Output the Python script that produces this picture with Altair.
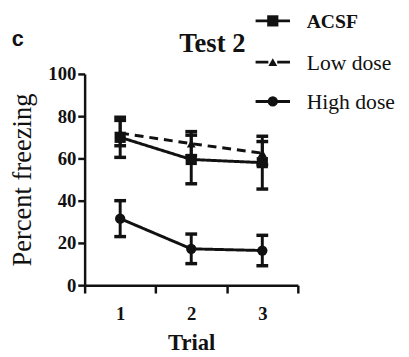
import altair as alt
import pandas as pd

trials = ["1", "2", "3"]
groups = ["ACSF", "Low dose", "High dose"]
acsf_mean = [70, 59.5, 58]
acsf_err = [9.5, 11.5, 12.5]
low_mean = [72, 67, 62.5]
low_err = [6, 5.7, 5.5]
high_mean = [31.5, 17.2, 16.4]
high_err = [8.5, 7, 7.2]
marker_shapes = ["square", "triangle-up", "circle"]
marker_sizes = [130, 80, 110]
dash_styles = [[1, 0], [9, 6], [1, 0]]

rows = []
for g, m, e in zip(groups, [acsf_mean, low_mean, high_mean], [acsf_err, low_err, high_err]):
    for t, mv, ev in zip(trials, m, e):
        rows.append({"trial": t, "group": g, "mean": mv, "err": ev})
df = pd.DataFrame(rows)

SERIF = "Liberation Serif"
INK = "#111111"

xaxis = alt.Axis(tickBand="extent", labelAngle=0, labelFont=SERIF, labelFontWeight="bold",
                 labelFontSize=19, labelColor=INK, labelPadding=12, tickSize=8, tickWidth=2.5,
                 tickColor=INK, domainColor=INK, domainWidth=2.5, grid=False,
                 titleFont=SERIF, titleFontWeight="bold", titleFontSize=23, titleColor=INK,
                 titlePadding=8)
yaxis = alt.Axis(values=[0, 20, 40, 60, 80, 100], labelFont=SERIF, labelFontWeight="bold",
                 labelFontSize=19, labelColor=INK, labelPadding=2, tickSize=7, tickWidth=2.5,
                 tickColor=INK, domainColor=INK, domainWidth=2.5, grid=False,
                 titleFont=SERIF, titleFontWeight="normal", titleFontSize=27, titleColor=INK,
                 titlePadding=12)

xenc = alt.X("trial:O", title="Trial",
             scale=alt.Scale(type="band", paddingInner=0, paddingOuter=0), axis=xaxis)
yscale = alt.Scale(domain=[0, 100], nice=False)


def yenc(field):
    return alt.Y(field, type="quantitative", scale=yscale, title="Percent freezing", axis=yaxis)


base = alt.Chart(df).transform_calculate(
    lo="datum.mean - datum.err", hi="datum.mean + datum.err")

lines = base.mark_line(strokeWidth=3, color=INK).encode(
    x=xenc, y=yenc("mean"), detail="group:N",
    strokeDash=alt.StrokeDash("group:N", legend=None,
                              scale=alt.Scale(domain=groups, range=dash_styles)),
)

rules = base.mark_rule(strokeWidth=3, color=INK, opacity=1).encode(
    x=xenc, y=yenc("lo"), y2="hi:Q")
cap_hi = base.mark_tick(size=12, thickness=3.5, color=INK, opacity=1).encode(x=xenc, y=yenc("hi"))
cap_lo = base.mark_tick(size=12, thickness=3.5, color=INK, opacity=1).encode(x=xenc, y=yenc("lo"))

point_layers = []
for g, shp, sz in zip(groups, marker_shapes, marker_sizes):
    point_layers.append(
        base.transform_filter(alt.datum.group == g).mark_point(
            filled=True, opacity=1, color=INK, shape=shp, size=sz).encode(
            x=xenc, y=yenc("mean"))
    )

# hand-built legend (top right, outside the plot area)
legend_rows_y = [-54, -12, 28]
legend_line_dash = [[1, 0], [13, 9, 13], [1, 0]]
legend_label_weight = ["bold", "normal", "normal"]
legend_label_size = [20, 22, 22]
legend_layers = []
for g, shp, sz, dash, ly, fw, fs in zip(groups, marker_shapes, marker_sizes, legend_line_dash,
                                        legend_rows_y, legend_label_weight, legend_label_size):
    item = alt.Chart(pd.DataFrame({"label": [g]}))
    legend_layers.append(item.mark_rule(strokeWidth=3, color=INK, strokeDash=dash).encode(
        x=alt.value(174), x2=alt.value(209), y=alt.value(ly)))
    legend_layers.append(item.mark_point(filled=True, opacity=1, color=INK, shape=shp, size=sz).encode(
        x=alt.value(191.5), y=alt.value(ly)))
    legend_layers.append(item.mark_text(font=SERIF, fontWeight=fw, fontSize=fs, color=INK,
                                        align="left", baseline="middle").encode(
        text="label:N", x=alt.value(226), y=alt.value(ly + 1)))

letter = alt.Chart(pd.DataFrame({"t": ["c"]})).mark_text(
    font="Liberation Sans", fontWeight="bold", fontSize=22, color=INK,
    align="center", baseline="middle").encode(
    text="t:N", x=alt.value(-68), y=alt.value(-35))

title = alt.Chart(pd.DataFrame({"t": ["Test 2"]})).mark_text(
    font=SERIF, fontWeight="bold", fontSize=27, color=INK,
    align="center", baseline="alphabetic").encode(
    text="t:N", x=alt.value(130), y=alt.value(-22))

chart = alt.layer(lines, rules, cap_hi, cap_lo, *point_layers, *legend_layers, letter, title).properties(
    width=217, height=215,
    autosize=alt.AutoSizeParams(type="none"),
    padding={"left": 78, "top": 64, "right": 105, "bottom": 70},
).configure_view(stroke=None).configure_axis(
    labelFont=SERIF, titleFont=SERIF,
)

chart.save("out.html", embed_options={"renderer": "svg", "actions": False})
